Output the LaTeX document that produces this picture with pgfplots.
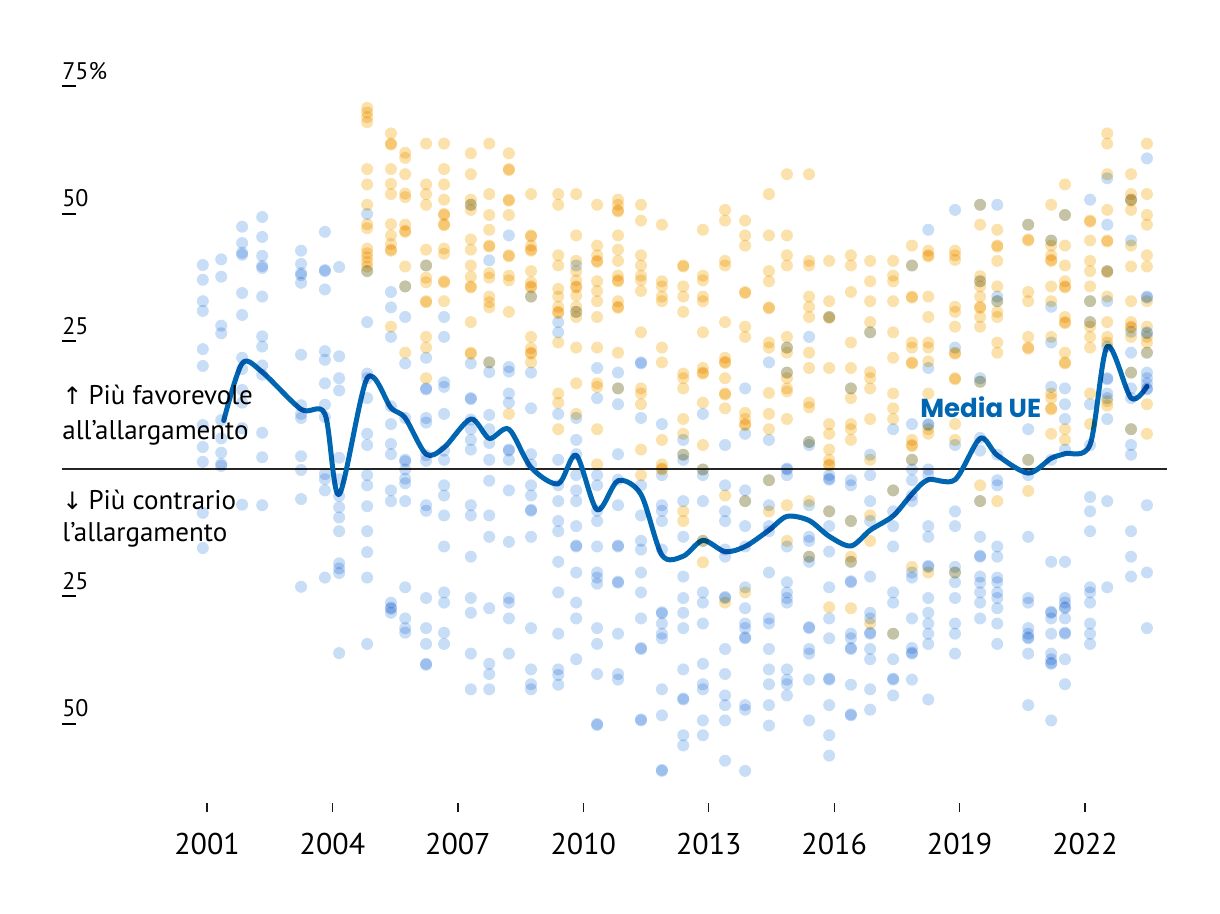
\documentclass[border=0pt]{standalone}
\usepackage{fontspec}
\setmainfont{PT Sans}
\newfontfamily\arrowfont{DejaVu Sans}
\newfontfamily\mediafont{Poppins}
\usepackage{pgfplots}
\pgfplotsset{compat=1.18}
\usepackage{pgfplotstable}
\definecolor{dotblue}{RGB}{200,221,246}
\definecolor{dotyellow}{RGB}{251,226,172}
\definecolor{lineblue}{RGB}{0,102,178}

\pgfplotstableread[row sep=\\]{
x y\\
2000.90 40.0\\2000.90 37.1\\2000.90 32.9\\2000.90 31.0\\2000.90 23.5\\2000.90 20.2\\2000.90 8.6\\2000.90 4.3\\2000.90 1.4\\2000.90 -8.6\\2000.90 -15.5\\
2001.34 41.1\\2001.34 37.7\\2001.34 28.1\\2001.34 26.6\\2001.34 9.6\\2001.34 6.0\\2001.34 3.2\\2001.34 1.0\\2001.34 0.6\\
2001.84 47.5\\2001.84 44.3\\2001.84 42.4\\2001.84 42.0\\2001.84 34.5\\2001.84 30.2\\2001.84 21.8\\2001.84 19.6\\2001.84 15.5\\2001.84 13.0\\2001.84 8.0\\2001.84 -7.0\\
2002.32 49.4\\2002.32 45.5\\2002.32 41.8\\2002.32 39.8\\2002.32 39.4\\2002.32 33.8\\2002.32 26.0\\2002.32 24.0\\2002.32 20.3\\2002.32 18.5\\2002.32 7.1\\2002.32 2.3\\2002.32 -7.1\\
2003.25 42.8\\2003.25 40.2\\2003.25 38.4\\2003.25 38.0\\2003.25 36.5\\2003.25 22.4\\2003.25 12.5\\2003.25 10.8\\2003.25 10.0\\2003.25 2.5\\2003.25 -0.2\\2003.25 -5.9\\2003.25 -23.1\\
2003.82 46.5\\2003.82 39.0\\2003.82 38.8\\2003.82 35.2\\2003.82 23.1\\2003.82 21.4\\2003.82 16.8\\2003.82 12.6\\2003.82 10.2\\2003.82 -1.0\\2003.82 -2.0\\2003.82 -4.2\\2003.82 -21.3\\
2004.16 39.6\\2004.16 22.1\\2004.16 17.8\\2004.16 15.4\\2004.16 2.2\\2004.16 -2.0\\2004.16 -5.3\\2004.16 -7.5\\2004.16 -9.5\\2004.16 -12.2\\2004.16 -18.5\\2004.16 -19.5\\2004.16 -20.4\\2004.16 -36.1\\
2004.83 50.0\\2004.83 38.8\\2004.83 28.8\\2004.83 18.7\\2004.83 17.8\\2004.83 13.9\\2004.83 6.9\\2004.83 4.7\\2004.83 -1.2\\2004.83 -3.2\\2004.83 -7.3\\2004.83 -12.2\\2004.83 -16.3\\2004.83 -21.3\\2004.83 -34.3\\
2005.40 34.7\\2005.40 31.7\\2005.40 25.9\\2005.40 12.3\\2005.40 8.8\\2005.40 4.9\\2005.40 2.9\\2005.40 -4.2\\2005.40 -6.3\\2005.40 -26.2\\2005.40 -27.2\\2005.40 -27.4\\2005.40 -28.2\\
2005.74 35.8\\2005.74 29.8\\2005.74 20.7\\2005.74 10.0\\2005.74 1.8\\2005.74 1.5\\2005.74 -0.1\\2005.74 -1.9\\2005.74 -2.8\\2005.74 -6.3\\2005.74 -23.2\\2005.74 -29.3\\2005.74 -31.2\\2005.74 -32.1\\
2006.24 39.9\\2006.24 21.8\\2006.24 15.8\\2006.24 15.6\\2006.24 10.0\\2006.24 9.1\\2006.24 2.7\\2006.24 1.6\\2006.24 -7.1\\2006.24 -8.2\\2006.24 -25.3\\2006.24 -31.2\\2006.24 -34.3\\2006.24 -38.2\\2006.24 -38.4\\
2006.67 29.8\\2006.67 25.9\\2006.67 17.0\\2006.67 16.1\\2006.67 10.8\\2006.67 3.6\\2006.67 1.8\\2006.67 -3.2\\2006.67 -5.2\\2006.67 -9.1\\2006.67 -15.2\\2006.67 -24.2\\2006.67 -26.2\\2006.67 -32.1\\2006.67 -34.3\\
2007.31 51.8\\2007.31 20.7\\2007.31 13.9\\2007.31 13.7\\2007.31 9.7\\2007.31 7.8\\2007.31 5.7\\2007.31 3.8\\2007.31 -7.1\\2007.31 -9.1\\2007.31 -17.2\\2007.31 -25.3\\2007.31 -28.2\\2007.31 -36.2\\2007.31 -43.2\\
2007.75 40.9\\2007.75 20.9\\2007.75 19.0\\2007.75 10.6\\2007.75 7.8\\2007.75 5.1\\2007.75 1.8\\2007.75 -2.3\\2007.75 -9.1\\2007.75 -13.3\\2007.75 -27.3\\2007.75 -38.2\\2007.75 -40.2\\2007.75 -43.2\\
2008.22 45.8\\2008.22 20.0\\2008.22 19.1\\2008.22 14.8\\2008.22 13.0\\2008.22 3.8\\2008.22 3.6\\2008.22 1.8\\2008.22 -4.2\\2008.22 -14.3\\2008.22 -25.3\\2008.22 -26.2\\2008.22 -29.3\\2008.22 -36.2\\
2008.75 33.8\\2008.75 18.9\\2008.75 11.9\\2008.75 2.9\\2008.75 0.9\\2008.75 -3.2\\2008.75 -5.2\\2008.75 -8.2\\2008.75 -8.0\\2008.75 -13.3\\2008.75 -31.2\\2008.75 -39.3\\2008.75 -42.2\\2008.75 -43.2\\
2009.40 28.8\\2009.40 26.8\\2009.40 10.8\\2009.40 1.8\\2009.40 -3.2\\2009.40 -6.3\\2009.40 -10.2\\2009.40 -12.2\\2009.40 -18.2\\2009.40 -24.2\\2009.40 -32.3\\2009.40 -39.3\\2009.40 -40.4\\2009.40 -42.3\\
2009.83 39.9\\2009.83 30.8\\2009.83 10.0\\2009.83 5.7\\2009.83 2.9\\2009.83 -1.2\\2009.83 -4.2\\2009.83 -6.3\\2009.83 -11.2\\2009.83 -15.2\\2009.83 -15.0\\2009.83 -20.3\\2009.83 -26.2\\2009.83 -29.3\\2009.83 -37.3\\
2010.33 19.8\\2010.33 13.9\\2010.33 -1.2\\2010.33 -3.2\\2010.33 -8.2\\2010.33 -10.2\\2010.33 -15.2\\2010.33 -20.3\\2010.33 -21.3\\2010.33 -22.5\\2010.33 -31.2\\2010.33 -34.3\\2010.33 -40.2\\2010.33 -50.2\\2010.33 -50.0\\
2010.83 18.9\\2010.83 15.8\\2010.83 12.7\\2010.83 2.9\\2010.83 -2.1\\2010.83 -7.1\\2010.83 -15.2\\2010.83 -15.0\\2010.83 -22.3\\2010.83 -22.1\\2010.83 -32.3\\2010.83 -40.2\\2010.83 -41.3\\
2011.38 20.9\\2011.38 20.7\\2011.38 10.0\\2011.38 -3.2\\2011.38 -9.1\\2011.38 -14.1\\2011.38 -15.8\\2011.38 -20.3\\2011.38 -24.2\\2011.38 -29.3\\2011.38 -35.3\\2011.38 -35.1\\2011.38 -49.3\\2011.38 -49.1\\
2011.88 8.8\\2011.88 -1.2\\2011.88 -7.1\\2011.88 -8.2\\2011.88 -10.2\\2011.88 -15.8\\2011.88 -28.3\\2011.88 -28.1\\2011.88 -30.3\\2011.88 -32.3\\2011.88 -33.2\\2011.88 -43.2\\2011.88 -48.3\\2011.88 -59.2\\2011.88 -59.0\\
2012.39 5.7\\2012.39 2.8\\2012.39 1.8\\2012.39 -6.3\\2012.39 -13.3\\2012.39 -21.1\\2012.39 -25.3\\2012.39 -28.2\\2012.39 -31.2\\2012.39 -39.3\\2012.39 -45.2\\2012.39 -45.0\\2012.39 -52.2\\2012.39 -54.2\\
2012.86 10.8\\2012.86 -0.1\\2012.86 -1.2\\2012.86 -6.3\\2012.86 -14.1\\2012.86 -24.2\\2012.86 -26.2\\2012.86 -30.3\\2012.86 -38.2\\2012.86 -42.2\\2012.86 -43.2\\2012.86 -49.3\\2012.86 -52.2\\
2013.39 4.7\\2013.39 -3.2\\2013.39 -8.3\\2013.39 -10.2\\2013.39 -15.8\\2013.39 -17.2\\2013.39 -25.3\\2013.39 -25.1\\2013.39 -35.3\\2013.39 -40.2\\2013.39 -44.4\\2013.39 -46.3\\2013.39 -49.3\\2013.39 -57.2\\
2013.87 15.8\\2013.87 6.9\\2013.87 -4.2\\2013.87 -6.3\\2013.87 -11.2\\2013.87 -15.2\\2013.87 -23.2\\2013.87 -27.3\\2013.87 -30.3\\2013.87 -31.2\\2013.87 -33.2\\2013.87 -33.0\\2013.87 -46.3\\2013.87 -47.2\\2013.87 -59.2\\
2014.44 20.9\\2014.44 5.7\\2014.44 -2.2\\2014.44 -7.1\\2014.44 -11.2\\2014.44 -12.2\\2014.44 -20.3\\2014.44 -29.3\\2014.44 -30.3\\2014.44 -35.3\\2014.44 -39.3\\2014.44 -42.2\\2014.44 -46.3\\2014.44 -50.3\\
2014.87 23.8\\2014.87 18.9\\2014.87 -0.1\\2014.87 0.1\\2014.87 -1.2\\2014.87 -15.2\\2014.87 -22.2\\2014.87 -24.2\\2014.87 -25.3\\2014.87 -26.2\\2014.87 -39.3\\2014.87 -41.3\\2014.87 -42.2\\2014.87 -44.4\\
2015.40 25.9\\2015.40 5.3\\2015.40 4.7\\2015.40 -7.1\\2015.40 -13.3\\2015.40 -14.1\\2015.40 -17.2\\2015.40 -18.2\\2015.40 -31.2\\2015.40 -31.0\\2015.40 -35.3\\2015.40 -36.2\\2015.40 -41.3\\2015.40 -49.3\\
2015.88 29.8\\2015.88 -1.2\\2015.88 -2.1\\2015.88 -1.9\\2015.88 -8.3\\2015.88 -11.2\\2015.88 -16.2\\2015.88 -23.2\\2015.88 -29.3\\2015.88 -33.2\\2015.88 -41.3\\2015.88 -41.1\\2015.88 -46.3\\2015.88 -52.2\\2015.88 -56.2\\
2016.40 15.8\\2016.40 -2.2\\2016.40 -3.2\\2016.40 -10.2\\2016.40 -18.2\\2016.40 -22.2\\2016.40 -22.0\\2016.40 -32.3\\2016.40 -33.2\\2016.40 -35.3\\2016.40 -35.1\\2016.40 -42.3\\2016.40 -48.3\\2016.40 -48.1\\
2016.86 26.8\\2016.86 2.8\\2016.86 -1.2\\2016.86 -6.3\\2016.86 -10.2\\2016.86 -21.1\\2016.86 -28.2\\2016.86 -29.3\\2016.86 -32.3\\2016.86 -32.1\\2016.86 -35.3\\2016.86 -37.3\\2016.86 -43.2\\2016.86 -47.2\\
2017.41 7.8\\2017.41 -4.2\\2017.41 -8.3\\2017.41 -11.2\\2017.41 -15.2\\2017.41 -24.2\\2017.41 -26.2\\2017.41 -32.3\\2017.41 -37.3\\2017.41 -41.3\\2017.41 -41.1\\2017.41 -44.4\\
2017.86 39.9\\2017.86 8.8\\2017.86 1.8\\2017.86 -0.1\\2017.86 -2.2\\2017.86 -5.2\\2017.86 -6.3\\2017.86 -20.3\\2017.86 -21.3\\2017.86 -29.3\\2017.86 -35.1\\2017.86 -36.2\\2017.86 -36.0\\2017.86 -41.3\\
2018.25 46.9\\2018.25 19.8\\2018.25 8.8\\2018.25 8.6\\2018.25 -0.1\\2018.25 -1.2\\2018.25 -11.2\\2018.25 -13.3\\2018.25 -19.2\\2018.25 -19.0\\2018.25 -25.3\\2018.25 -28.2\\2018.25 -30.3\\2018.25 -32.3\\2018.25 -34.3\\2018.25 -45.2\\
2018.89 50.8\\2018.89 23.8\\2018.89 4.7\\2018.89 -8.3\\2018.89 -11.2\\2018.89 -19.2\\2018.89 -20.3\\2018.89 -22.2\\2018.89 -25.3\\2018.89 -30.3\\2018.89 -32.3\\2018.89 -36.2\\
2019.49 51.8\\2019.49 36.8\\2019.49 17.8\\2019.49 17.1\\2019.49 6.1\\2019.49 3.6\\2019.49 -6.3\\2019.49 -13.3\\2019.49 -17.2\\2019.49 -17.0\\2019.49 -21.1\\2019.49 -22.3\\2019.49 -24.2\\2019.49 -26.2\\2019.49 -29.3\\
2019.90 51.8\\2019.90 33.8\\2019.90 32.9\\2019.90 2.8\\2019.90 -2.2\\2019.90 -3.2\\2019.90 -15.2\\2019.90 -17.2\\2019.90 -21.3\\2019.90 -22.2\\2019.90 -24.2\\2019.90 -25.3\\2019.90 -27.3\\2019.90 -30.3\\2019.90 -34.3\\
2020.64 47.9\\2020.64 7.8\\2020.64 1.8\\2020.64 -1.2\\2020.64 -13.3\\2020.64 -25.3\\2020.64 -26.2\\2020.64 -31.2\\2020.64 -32.3\\2020.64 -33.2\\2020.64 -33.0\\2020.64 -36.2\\2020.64 -46.3\\
2021.19 44.8\\2021.19 31.8\\2021.19 24.8\\2021.19 16.1\\2021.19 1.8\\2021.19 -18.2\\2021.19 -28.2\\2021.19 -28.0\\2021.19 -29.3\\2021.19 -32.3\\2021.19 -36.2\\2021.19 -37.3\\2021.19 -38.2\\2021.19 -38.0\\2021.19 -49.3\\
2021.52 49.8\\2021.52 15.8\\2021.52 12.7\\2021.52 9.8\\2021.52 3.8\\2021.52 -18.2\\2021.52 -25.3\\2021.52 -26.2\\2021.52 -27.3\\2021.52 -27.1\\2021.52 -29.3\\2021.52 -32.3\\2021.52 -32.1\\2021.52 -37.3\\2021.52 -42.2\\
2022.12 52.8\\2022.12 32.9\\2022.12 28.8\\2022.12 12.7\\2022.12 4.7\\2022.12 -5.5\\2022.12 -8.3\\2022.12 -12.2\\2022.12 -23.2\\2022.12 -24.2\\2022.12 -26.2\\2022.12 -30.3\\2022.12 -32.3\\2022.12 -34.3\\
2022.53 57.0\\2022.53 47.9\\2022.53 38.8\\2022.53 32.9\\2022.53 24.0\\2022.53 17.8\\2022.53 17.6\\2022.53 14.8\\2022.53 13.9\\2022.53 9.8\\2022.53 -6.3\\2022.53 -23.2\\
2023.10 52.8\\2023.10 44.8\\2023.10 26.9\\2023.10 22.8\\2023.10 18.9\\2023.10 15.8\\2023.10 13.9\\2023.10 7.8\\2023.10 4.7\\2023.10 2.8\\2023.10 -12.2\\2023.10 -17.2\\2023.10 -21.1\\
2023.48 60.9\\2023.48 33.8\\2023.48 33.6\\2023.48 26.8\\2023.48 26.6\\2023.48 22.8\\2023.48 18.9\\2023.48 17.8\\2023.48 16.8\\2023.48 15.8\\2023.48 15.6\\2023.48 -7.1\\2023.48 -20.3\\2023.48 -31.2\\
}\bluedata

\pgfplotstableread[row sep=\\]{
x y\\
2004.83 70.8\\2004.83 69.9\\2004.83 69.0\\2004.83 68.0\\2004.83 58.8\\2004.83 55.8\\2004.83 51.8\\2004.83 48.0\\2004.83 47.2\\2004.83 43.2\\2004.83 42.3\\2004.83 41.5\\2004.83 40.6\\2004.83 39.7\\2004.83 38.8\\
2005.40 65.8\\2005.40 63.8\\2005.40 63.6\\2005.40 58.8\\2005.40 55.9\\2005.40 53.9\\2005.40 48.0\\2005.40 45.8\\2005.40 44.1\\2005.40 43.0\\2005.40 42.8\\2005.40 27.9\\
2005.74 62.0\\2005.74 61.0\\2005.74 57.8\\2005.74 54.0\\2005.74 53.3\\2005.74 47.9\\2005.74 46.7\\2005.74 46.5\\2005.74 39.7\\2005.74 35.8\\2005.74 22.8\\
2006.24 63.8\\2006.24 55.8\\2006.24 53.9\\2006.24 51.8\\2006.24 43.0\\2006.24 39.9\\2006.24 37.5\\2006.24 36.6\\2006.24 32.9\\2006.24 32.7\\2006.24 25.9\\2006.24 23.8\\2006.24 17.8\\
2006.67 63.8\\2006.67 58.8\\2006.67 55.8\\2006.67 52.8\\2006.67 50.0\\2006.67 49.8\\2006.67 48.0\\2006.67 47.8\\2006.67 43.2\\2006.67 42.2\\2006.67 36.8\\2006.67 36.6\\2006.67 32.9\\
2007.31 61.9\\2007.31 57.8\\2007.31 52.8\\2007.31 51.8\\2007.31 50.8\\2007.31 45.0\\2007.31 43.0\\2007.31 39.9\\2007.31 37.7\\2007.31 35.8\\2007.31 35.6\\2007.31 28.8\\2007.31 22.8\\2007.31 22.6\\
2007.75 63.8\\2007.75 53.9\\2007.75 49.8\\2007.75 46.9\\2007.75 43.8\\2007.75 43.6\\2007.75 38.4\\2007.75 37.5\\2007.75 33.8\\2007.75 32.7\\2007.75 31.7\\2007.75 20.9\\
2008.22 61.9\\2008.22 58.8\\2008.22 58.6\\2008.22 52.8\\2008.22 52.6\\2008.22 49.8\\2008.22 41.9\\2008.22 41.7\\2008.22 37.9\\2008.22 37.0\\2008.22 30.8\\2008.22 10.8\\
2008.75 53.9\\2008.75 45.8\\2008.75 45.6\\2008.75 43.8\\2008.75 43.0\\2008.75 42.8\\2008.75 38.8\\2008.75 36.6\\2008.75 35.8\\2008.75 35.6\\2008.75 33.8\\2008.75 25.9\\2008.75 23.7\\2008.75 22.8\\2008.75 22.6\\2008.75 20.9\\
2009.40 53.9\\2009.40 51.8\\2009.40 41.9\\2009.40 39.9\\2009.40 35.3\\2009.40 33.8\\2009.40 31.8\\2009.40 30.8\\2009.40 30.6\\2009.40 24.8\\2009.40 14.8\\2009.40 13.0\\2009.40 7.8\\
2009.83 53.9\\2009.83 45.8\\2009.83 40.8\\2009.83 38.8\\2009.83 37.0\\2009.83 35.8\\2009.83 35.6\\2009.83 34.0\\2009.83 31.8\\2009.83 30.8\\2009.83 29.8\\2009.83 23.8\\2009.83 16.8\\2009.83 10.8\\
2010.33 51.8\\2010.33 43.8\\2010.33 41.9\\2010.33 40.8\\2010.33 40.6\\2010.33 36.8\\2010.33 34.9\\2010.33 32.9\\2010.33 29.8\\2010.33 23.8\\2010.33 16.8\\2010.33 16.1\\2010.33 7.8\\2010.33 0.9\\
2010.83 52.8\\2010.83 51.8\\2010.83 50.7\\2010.83 50.5\\2010.83 45.8\\2010.83 43.0\\2010.83 40.8\\2010.83 37.9\\2010.83 37.0\\2010.83 36.8\\2010.83 32.9\\2010.83 31.8\\2010.83 31.6\\2010.83 22.8\\2010.83 15.8\\
2011.38 51.8\\2011.38 48.7\\2011.38 41.9\\2011.38 39.9\\2011.38 37.9\\2011.38 37.0\\2011.38 34.9\\2011.38 26.8\\2011.38 15.8\\2011.38 14.8\\2011.38 12.7\\2011.38 3.8\\2011.38 -1.2\\
2011.88 47.9\\2011.88 36.8\\2011.88 35.8\\2011.88 33.8\\2011.88 32.9\\2011.88 23.8\\2011.88 20.9\\2011.88 5.7\\2011.88 0.9\\2011.88 -0.1\\2011.88 0.1\\
2012.39 39.9\\2012.39 39.7\\2012.39 35.8\\2012.39 33.8\\2012.39 30.8\\2012.39 18.7\\2012.39 17.8\\2012.39 15.8\\2012.39 9.8\\2012.39 6.9\\2012.39 2.8\\2012.39 -8.3\\2012.39 -10.2\\
2012.86 46.9\\2012.86 37.9\\2012.86 37.0\\2012.86 33.8\\2012.86 32.9\\2012.86 26.8\\2012.86 19.8\\2012.86 18.9\\2012.86 18.7\\2012.86 13.0\\2012.86 4.7\\2012.86 -0.1\\2012.86 -14.1\\2012.86 -18.3\\
2013.39 50.8\\2013.39 48.7\\2013.39 40.8\\2013.39 39.9\\2013.39 28.8\\2013.39 21.8\\2013.39 21.0\\2013.39 20.8\\2013.39 17.8\\2013.39 14.8\\2013.39 14.6\\2013.39 11.9\\2013.39 -5.2\\2013.39 -26.2\\
2013.87 48.7\\2013.87 45.8\\2013.87 43.8\\2013.87 34.7\\2013.87 34.5\\2013.87 27.9\\2013.87 25.9\\2013.87 11.0\\2013.87 9.8\\2013.87 8.8\\2013.87 8.6\\2013.87 -6.3\\2013.87 -24.2\\
2014.44 53.9\\2014.44 45.8\\2014.44 38.8\\2014.44 36.8\\2014.44 31.7\\2014.44 31.5\\2014.44 24.8\\2014.44 23.8\\2014.44 14.9\\2014.44 10.8\\2014.44 7.8\\2014.44 -2.2\\2014.44 -8.3\\
2014.87 57.8\\2014.87 45.8\\2014.87 41.9\\2014.87 39.9\\2014.87 25.9\\2014.87 23.8\\2014.87 22.8\\2014.87 18.9\\2014.87 17.8\\2014.87 15.8\\2014.87 15.2\\2014.87 9.8\\2014.87 -7.1\\2014.87 -14.1\\
2015.40 57.8\\2015.40 40.8\\2015.40 39.9\\2015.40 33.8\\2015.40 31.8\\2015.40 29.8\\2015.40 22.8\\2015.40 19.8\\2015.40 13.0\\2015.40 12.1\\2015.40 5.3\\2015.40 -6.3\\2015.40 -17.2\\
2015.88 40.8\\2015.88 32.9\\2015.88 29.8\\2015.88 29.6\\2015.88 19.8\\2015.88 8.8\\2015.88 6.9\\2015.88 3.8\\2015.88 1.8\\2015.88 0.9\\2015.88 0.7\\2015.88 -8.3\\2015.88 -27.1\\
2016.40 41.9\\2016.40 39.9\\2016.40 34.7\\2016.40 24.8\\2016.40 19.8\\2016.40 15.8\\2016.40 13.9\\2016.40 8.8\\2016.40 7.8\\2016.40 5.7\\2016.40 -10.2\\2016.40 -17.2\\2016.40 -18.2\\2016.40 -27.3\\
2016.86 40.8\\2016.86 36.8\\2016.86 32.9\\2016.86 28.8\\2016.86 26.8\\2016.86 19.0\\2016.86 17.8\\2016.86 15.8\\2016.86 9.8\\2016.86 1.8\\2016.86 -9.1\\2016.86 -14.1\\2016.86 -30.3\\
2017.41 40.8\\2017.41 37.9\\2017.41 36.8\\2017.41 32.9\\2017.41 26.8\\2017.41 21.8\\2017.41 14.8\\2017.41 11.9\\2017.41 9.8\\2017.41 -4.2\\2017.41 -32.3\\
2017.86 43.8\\2017.86 39.9\\2017.86 33.8\\2017.86 33.6\\2017.86 24.8\\2017.86 23.8\\2017.86 20.9\\2017.86 20.7\\2017.86 5.7\\2017.86 4.7\\2017.86 4.5\\2017.86 1.8\\2017.86 -19.2\\
2018.25 42.8\\2018.25 41.9\\2018.25 41.7\\2018.25 33.8\\2018.25 29.8\\2018.25 24.8\\2018.25 23.8\\2018.25 21.1\\2018.25 14.8\\2018.25 7.8\\2018.25 6.9\\2018.25 -20.3\\
2018.89 42.8\\2018.89 41.9\\2018.89 41.0\\2018.89 31.8\\2018.89 30.8\\2018.89 27.9\\2018.89 22.8\\2018.89 22.6\\2018.89 17.8\\2018.89 17.6\\2018.89 8.8\\2018.89 5.7\\2018.89 -20.3\\
2019.49 51.8\\2019.49 47.9\\2019.49 37.8\\2019.49 36.8\\2019.49 35.8\\2019.49 33.8\\2019.49 31.8\\2019.49 31.6\\2019.49 29.8\\2019.49 27.9\\2019.49 17.1\\2019.49 -3.2\\2019.49 -6.3\\
2019.90 46.9\\2019.90 43.8\\2019.90 43.6\\2019.90 40.8\\2019.90 35.8\\2019.90 32.9\\2019.90 30.8\\2019.90 29.8\\2019.90 24.8\\2019.90 22.8\\2019.90 -6.3\\
2020.64 47.9\\2020.64 45.0\\2020.64 44.8\\2020.64 34.7\\2020.64 32.9\\2020.64 25.9\\2020.64 23.8\\2020.64 23.6\\2020.64 1.8\\2020.64 -4.3\\
2021.19 51.8\\2021.19 44.8\\2021.19 43.8\\2021.19 41.9\\2021.19 41.0\\2021.19 40.8\\2021.19 35.8\\2021.19 32.9\\2021.19 25.9\\2021.19 14.8\\2021.19 13.9\\2021.19 11.9\\2021.19 11.7\\2021.19 6.9\\
2021.52 55.8\\2021.52 49.8\\2021.52 43.8\\2021.52 39.9\\2021.52 36.8\\2021.52 35.8\\2021.52 35.6\\2021.52 29.8\\2021.52 28.8\\2021.52 28.6\\2021.52 22.8\\2021.52 20.9\\2021.52 20.7\\2021.52 7.8\\2021.52 5.7\\
2022.12 48.7\\2022.12 48.5\\2022.12 44.8\\2022.12 40.8\\2022.12 38.8\\2022.12 35.8\\2022.12 32.9\\2022.12 28.8\\2022.12 27.9\\2022.12 25.9\\2022.12 23.8\\2022.12 14.8\\2022.12 8.8\\
2022.53 65.8\\2022.53 63.8\\2022.53 57.8\\2022.53 50.8\\2022.53 44.8\\2022.53 44.6\\2022.53 38.8\\2022.53 38.6\\2022.53 33.8\\2022.53 28.8\\2022.53 25.9\\2022.53 24.8\\2022.53 13.3\\2022.53 12.4\\
2023.10 57.8\\2023.10 53.9\\2023.10 52.8\\2023.10 52.6\\2023.10 50.8\\2023.10 43.8\\2023.10 39.7\\2023.10 32.9\\2023.10 28.8\\2023.10 27.9\\2023.10 27.7\\2023.10 25.9\\2023.10 18.9\\2023.10 7.8\\
2023.48 63.8\\2023.48 53.9\\2023.48 49.8\\2023.48 47.9\\2023.48 41.9\\2023.48 39.7\\2023.48 32.9\\2023.48 27.9\\2023.48 25.9\\2023.48 24.8\\2023.48 22.8\\2023.48 12.7\\2023.48 6.9\\
}\yellowdata

\newcommand{\txtfont}{\fontsize{13.5}{16}\selectfont}
\newcommand{\yfont}{\fontsize{12}{14}\selectfont}
\newcommand{\xfont}{\fontsize{15}{18}\selectfont}

\begin{document}
\begin{tikzpicture}
\begin{axis}[
  at={(0,0)}, anchor=south west,
  scale only axis, width=552.5pt, height=371pt,
  xmin=1997.532, xmax=2023.96, ymin=-65.49, ymax=80,
  axis line style={draw=none},
  ytick=\empty,
  xtick={2001,2004,2007,2010,2013,2016,2019,2022},
  xticklabels={2001,2004,2007,2010,2013,2016,2019,2022},
  xtick pos=bottom, tick align=outside, major tick length=4.5pt,
  x tick style={line width=0.65pt, color=black!90},
  xticklabel style={font=\xfont, yshift=-7pt},
  clip=false]
\addplot[only marks, mark=*, mark size=3pt,
  mark options={draw opacity=0, fill=dotyellow, blend mode=multiply}] table {\yellowdata};
\addplot[only marks, mark=*, mark size=3pt,
  mark options={draw opacity=0, fill=dotblue, blend mode=multiply}] table {\bluedata};
\addplot[black!85, line width=0.9pt] coordinates {(1997.532,0) (2023.96,0)};
\addplot[lineblue, line width=2.5pt, smooth, line cap=round, line join=round] coordinates {
(2001.40,9.5) (2001.84,20.7) (2002.32,19.0) (2003.25,11.7) (2003.82,10.8) (2004.16,-5.0)
(2004.83,17.8) (2005.40,12.0) (2005.74,10.0) (2006.24,2.9) (2006.67,4.2) (2007.31,9.8)
(2007.75,6.0) (2008.22,7.8) (2008.75,0.3) (2009.40,-2.9) (2009.83,2.7) (2010.33,-8.0)
(2010.83,-2.3) (2011.38,-5.0) (2011.88,-16.9) (2012.39,-17.1) (2012.86,-14.0) (2013.39,-16.2)
(2013.87,-15.2) (2014.44,-12.0) (2014.87,-9.3) (2015.40,-10.1) (2015.88,-13.2) (2016.40,-15.1)
(2016.86,-12.0) (2017.41,-9.2) (2017.86,-4.9) (2018.25,-2.1) (2018.89,-2.1) (2019.49,6.0)
(2019.90,2.7) (2020.64,-0.8) (2021.19,2.1) (2021.52,3.0) (2022.12,4.8) (2022.53,24.0)
(2023.10,13.9) (2023.48,16.2)};
\coordinate (u75) at (axis cs:1997.532,75);
\coordinate (u50) at (axis cs:1997.532,50);
\coordinate (u25) at (axis cs:1997.532,25);
\coordinate (um25) at (axis cs:1997.532,-25);
\coordinate (um50) at (axis cs:1997.532,-50);
\coordinate (tA) at (axis cs:1997.532,12.55);
\coordinate (tB) at (axis cs:1997.532,5.7);
\coordinate (tC) at (axis cs:1997.532,-7.9);
\coordinate (tD) at (axis cs:1997.532,-14.25);
\coordinate (tM) at (axis cs:2018.05,10.0);
\end{axis}
% y labels
\foreach \c/\t in {u75/75\%, u50/50, u25/25, um25/25, um50/50}{
  \draw[line width=1pt] (\c) -- ([xshift=7pt]\c);
  \node[anchor=base west, inner sep=0pt, font=\yfont] at ([yshift=3.5pt]\c) {\t};
}
\node[anchor=base west, inner sep=0pt, font=\txtfont] at (tA) {{\arrowfont\fontsize{12}{14}\selectfont ↑}\hspace{3pt}Più favorevole};
\node[anchor=base west, inner sep=0pt, font=\txtfont] at (tB) {all’allargamento};
\node[anchor=base west, inner sep=0pt, font=\txtfont] at (tC) {{\arrowfont\fontsize{12}{14}\selectfont ↓}\hspace{3pt}Più contrario};
\node[anchor=base west, inner sep=0pt, font=\txtfont] at (tD) {l’allargamento};
\node[anchor=base west, inner sep=0pt, font=\mediafont\bfseries\fontsize{13}{15}\selectfont, text=lineblue] at (tM) {Media UE};
\pgfresetboundingbox
\path[use as bounding box] (-31pt,-55.5pt) rectangle (579pt,401.5pt);
\end{tikzpicture}
\end{document}
